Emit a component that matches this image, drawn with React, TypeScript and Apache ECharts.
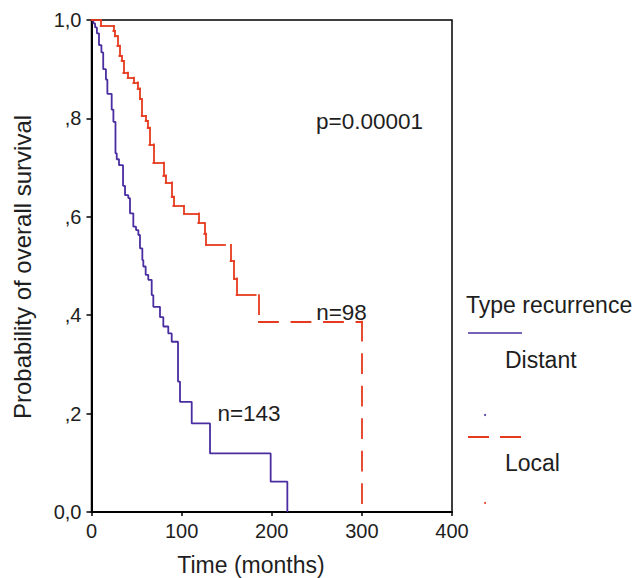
import React, { useEffect, useRef } from 'react';
import * as echarts from 'echarts';

const FONT = '"Liberation Sans", Arial, Helvetica, sans-serif';
const PURPLE = '#4a2da0';
const RED = '#e63a1e';
const TEXT = '#1e1e1e';

// Distant recurrence (n=143) Kaplan-Meier steps
const distantTimes = [0, 2, 4, 6, 8.3, 11, 13, 16, 17.6, 22.4, 24.3, 26.6, 28, 30.5, 35, 37.2, 40.8, 42.7, 46.4, 49.4, 52, 53.8, 56.4, 57.5, 60.1, 63, 66.8, 68.6, 76, 79.7, 85.2, 89, 96, 98.2, 111.2, 131.5, 198.8, 217.3];
const distantSurv = [1, 0.993, 0.985, 0.973, 0.949, 0.934, 0.9, 0.879, 0.85, 0.818, 0.793, 0.729, 0.717, 0.705, 0.663, 0.644, 0.638, 0.607, 0.58, 0.573, 0.563, 0.536, 0.512, 0.499, 0.482, 0.472, 0.441, 0.417, 0.396, 0.377, 0.363, 0.346, 0.265, 0.224, 0.18, 0.119, 0.0616, 0];

// Local recurrence (n=98) Kaplan-Meier steps
const localTimes = [0, 10.2, 24.2, 26, 28.7, 30.9, 33.5, 35.3, 40.1, 46.4, 51.2, 53.8, 55.7, 60.1, 62.3, 64.2, 68.6, 79.7, 82.3, 89, 90.8, 102.6, 118.5, 125.2, 127, 154.4, 158, 161, 185.8, 300];
const localSurv = [1, 0.988, 0.978, 0.967, 0.948, 0.927, 0.917, 0.893, 0.883, 0.873, 0.861, 0.839, 0.805, 0.795, 0.781, 0.747, 0.71, 0.684, 0.67, 0.641, 0.622, 0.607, 0.587, 0.566, 0.543, 0.51, 0.475, 0.441, 0.387, 0];

const xTickLabels = ['0', '100', '200', '300', '400'];
const yTickLabels = ['0,0', ',2', ',4', ',6', ',8', '1,0'];

const seriesNames = ['Distant', 'Local'];
const legendTitle = 'Type recurrence';
const annotations = { p: 'p=0.00001', nLocal: 'n=98', nDistant: 'n=143' };

export default function App() {
  const ref = useRef<HTMLDivElement>(null);
  useEffect(() => {
    const chart = echarts.init(ref.current!, null, { renderer: 'svg' });

    const localSegments: any[] = [];
    for (let i = 1; i < localTimes.length; i++) {
      localSegments.push({ coords: [[localTimes[i - 1], localSurv[i - 1]], [localTimes[i], localSurv[i - 1]]] });
      localSegments.push({ coords: [[localTimes[i], localSurv[i - 1]], [localTimes[i], localSurv[i]]] });
    }

    const txt = (text: string, x: number, y: number, size: number, align: string, extra: any = {}) => ({
      type: 'text',
      x,
      y,
      ...extra,
      style: { text, fontSize: size, fontFamily: FONT, fill: TEXT, align, verticalAlign: 'middle' },
    });

    chart.setOption({
      animation: false,
      backgroundColor: '#ffffff',
      grid: {
        left: 91.5,
        top: 20,
        width: 360.5,
        height: 492,
        show: true,
        borderColor: '#000',
        borderWidth: 1.5,
        backgroundColor: 'transparent',
      },
      xAxis: {
        type: 'value',
        min: 0,
        max: 400,
        interval: 100,
        axisLine: { show: true, onZero: false, lineStyle: { color: '#000', width: 2 } },
        axisTick: { show: true, length: 4, lineStyle: { color: '#000', width: 1.5 } },
        axisLabel: {
          margin: 9,
          fontSize: 20,
          fontFamily: FONT,
          color: TEXT,
          formatter: (v: number) => xTickLabels[Math.round(v / 100)] ?? '',
        },
        splitLine: { show: false },
      },
      yAxis: {
        type: 'value',
        min: 0,
        max: 1,
        interval: 0.2,
        axisLine: { show: true, onZero: false, lineStyle: { color: '#000', width: 2 } },
        axisTick: { show: true, length: 5, lineStyle: { color: '#000', width: 1.5 } },
        axisLabel: {
          margin: 10,
          fontSize: 20,
          fontFamily: FONT,
          color: TEXT,
          formatter: (v: number) => yTickLabels[Math.round(v * 5)] ?? '',
        },
        splitLine: { show: false },
      },
      series: [
        {
          name: seriesNames[0],
          type: 'line',
          step: 'end',
          data: distantTimes.map((t, i) => [t, distantSurv[i]]),
          symbol: 'none',
          showSymbol: false,
          lineStyle: { color: PURPLE, width: 1.8 },
          z: 3,
        },
        {
          name: seriesNames[1],
          type: 'lines',
          coordinateSystem: 'cartesian2d',
          polyline: false,
          data: localSegments,
          lineStyle: { color: RED, width: 1.8, type: [19, 13.5], cap: 'square', opacity: 1, curveness: 0 },
          z: 4,
        },
      ],
      graphic: [
        txt('Probability of overall survival', 22, 267, 24, 'center', { rotation: Math.PI / 2 }),
        txt('Time (months)', 251, 565, 23, 'center'),
        txt(annotations.p, 369.5, 121, 22.5, 'center'),
        txt(annotations.nLocal, 341.5, 312, 22.5, 'center'),
        txt(annotations.nDistant, 249, 413, 22.5, 'center'),
        txt(legendTitle, 466, 305, 23, 'left'),
        { type: 'line', shape: { x1: 468, y1: 333, x2: 522, y2: 333 }, style: { stroke: PURPLE, lineWidth: 1.5 } },
        txt(seriesNames[0], 505, 360, 23, 'left'),
        { type: 'circle', shape: { cx: 485, cy: 415, r: 1 }, style: { fill: PURPLE } },
        { type: 'line', shape: { x1: 468, y1: 437, x2: 522, y2: 437 }, style: { stroke: RED, lineWidth: 2, lineDash: [21, 11] } },
        txt(seriesNames[1], 505, 463, 23, 'left'),
        { type: 'circle', shape: { cx: 485, cy: 503, r: 1 }, style: { fill: RED } },
      ],
    });
    return () => chart.dispose();
  }, []);
  return (
    <div
      ref={ref}
      style={{ position: 'fixed', left: 0, top: 0, width: 637, height: 578, background: '#fff' }}
    />
  );
}
